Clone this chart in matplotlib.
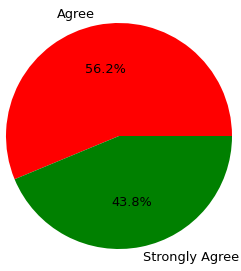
import matplotlib
matplotlib.use("Agg")
import matplotlib.pyplot as plt

labels = ["Agree", "Strongly Agree"]
counts = [9, 7]
colors = ["red", "green"]

fig = plt.figure(figsize=(2.41, 2.71), dpi=100)
ax = fig.add_axes([0, 0, 1, 1])
ax.pie(counts, labels=labels, colors=colors, autopct="%1.1f%%",
       textprops={"fontsize": 9.25})
r = 113.0
cx, cy = 119.0, 136.0
ax.set_aspect("auto")
ax.set_xlim(-cx / r, (241 - cx) / r)
ax.set_ylim(-(271 - cy) / r, cy / r)
ax.axis("off")
fig.savefig("out.png", dpi=100)
